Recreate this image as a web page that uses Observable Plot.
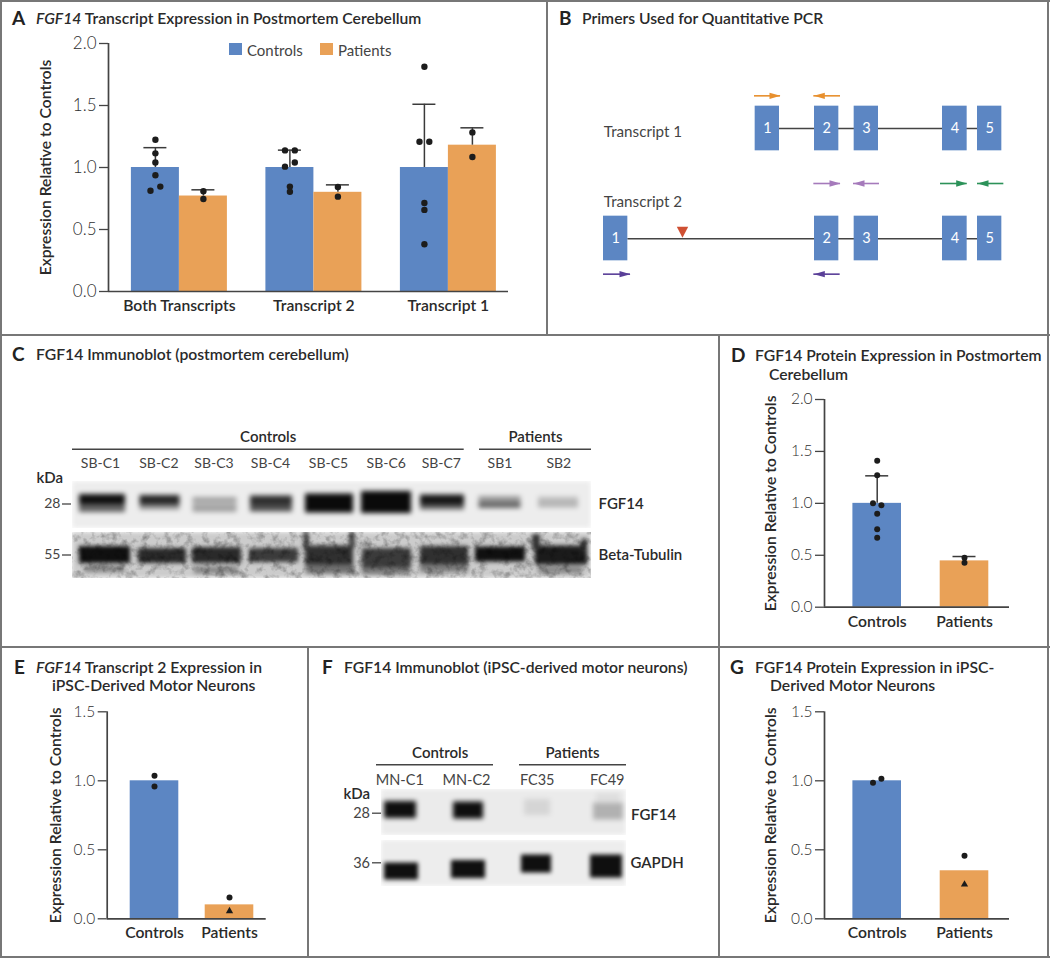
<!DOCTYPE html>
<html>
<head>
<meta charset="utf-8">
<script src="https://cdn.jsdelivr.net/npm/d3@7"></script>
<script src="https://cdn.jsdelivr.net/npm/@observablehq/plot@0.6"></script>
<style>
html,body{margin:0;padding:0;background:#fff;overflow:hidden}
#page{position:relative;width:1050px;height:960px;font-family:Lato,sans-serif;color:#222}
.ln{position:absolute;background:#777}
.t{position:absolute;white-space:nowrap;font-size:15.7px;font-weight:600;line-height:20px;color:#2a2a2a}
.l{position:absolute;white-space:nowrap;font-size:19px;font-weight:700;line-height:20px;color:#222}
.lg{position:absolute;white-space:nowrap;font-size:15px;font-weight:400;line-height:16px;color:#444}
.sw{position:absolute;width:13px;height:12px}
</style>
</head>
<body>
<svg width="0" height="0" style="position:absolute">
  <filter id="grain" x="0" y="0" width="100%" height="100%" color-interpolation-filters="sRGB">
    <feGaussianBlur in="SourceGraphic" stdDeviation="2.2" result="b"/>
    <feTurbulence type="fractalNoise" baseFrequency="0.13" numOctaves="3" seed="7" result="n"/>
    <feColorMatrix in="n" type="matrix" values="0.75 0 0 0 0.58  0.75 0 0 0 0.58  0.75 0 0 0 0.58  0 0 0 0 1" result="g"/>
    <feBlend in="b" in2="g" mode="multiply"/>
  </filter>
</svg>
<div id="page"></div>
<script>
// ---------- Panel A ----------
const aGroups = ["Both Transcripts", "Transcript 2", "Transcript 1"];
const aControls = [1.0, 1.0, 1.0];
const aPatients = [0.77, 0.80, 1.18];
const aControlsErr = [1.16, 1.14, 1.51];
const aPatientsErr = [0.82, 0.86, 1.32];
const aControlsPts = [
  [1.224, 1.114, 1.04, 0.937, 0.846, 0.813],
  [1.138, 1.138, 1.04, 1.007, 0.846, 0.805],
  [1.812, 1.208, 1.208, 0.714, 0.658, 0.381]
];
const aControlsCol = [
  [0, 0, 0, 0, 1, -1],
  [-1, 1, 1, -1, 0, 0],
  [0, -1, 1, 0, 0, 0]
];
const aPatientsPts = [[0.808, 0.746], [0.843, 0.765], [1.283, 1.085]];

// ---------- Panel D ----------
const dGroups = ["Controls", "Patients"];
const dBars = [1.0, 0.446];
const dErr = [1.265, 0.488];
const dPts = [[1.41, 1.27, 1.0, 0.982, 0.899, 0.751, 0.668], [0.475, 0.427]];
const dCol = [[0, 0, -1, 1, 0, 0, 0], [0, 0]];

// ---------- Panel E ----------
const eBars = [1.0, 0.101];
const ePts = [[1.036, 0.959], [0.155]];
const eCol = [[0, 0], [0]];
const eTri = [null, 0.056];

// ---------- Panel G ----------
const gBars = [1.0, 0.348];
const gPts = [[0.986, 1.014], [0.457]];
const gCol = [[-1, 1], [0]];
const gTri = [null, 0.249];

// ---------- Panel B (schematic, arbitrary gene units) ----------
const exonStart = [614, 792, 911, 1176, 1281];
const exonEnd = [687, 865, 984, 1250, 1354];
const exonNames = ["1", "2", "3", "4", "5"];
const exon1T2 = [159, 232];
const primerFrom = [612, 870, 790, 987, 1170, 1360, 159, 869];
const primerTo = [690, 790, 870, 909, 1250, 1281, 240, 790];
const primerTrack = [286, 286, 549, 549, 549, 549, 821, 821];
const primerKind = ["orange", "orange", "lilac", "lilac", "green", "green", "violet", "violet"];

// ---------- Blots: lane centre, half width, band centre, band height, signal 0..1 ----------
const cLaneNames = ["SB-C1", "SB-C2", "SB-C3", "SB-C4", "SB-C5", "SB-C6", "SB-C7", "SB1", "SB2"];
const cLaneLabelPos = [100, 158.4, 213.5, 270, 328, 385.7, 440.8, 499.5, 558.3];
const cFgfLane = [102, 102, 159.5, 159.5, 214.5, 214.5, 271, 271, 329, 386, 442, 442, 499.5, 499.5, 558, 558];
const cFgfHalf = [23, 23, 20, 20, 22, 22, 21, 21, 24, 25, 22, 22, 21, 21, 20, 20];
const cFgfY = [499, 508, 500, 507, 500, 508, 500.5, 508, 503, 502, 500.5, 507, 499, 505, 499, 503.5];
const cFgfH = [10, 8, 10, 5, 6, 8, 10, 7, 19, 22, 12, 5, 6, 6, 5, 8];
const cFgfS = [0.98, 0.62, 0.88, 0.42, 0.34, 0.34, 0.85, 0.7, 1, 1, 0.95, 0.62, 0.38, 0.6, 0.2, 0.26];
const cTubLane = [104.5, 162, 216.5, 273.5, 329, 386.5, 444, 500, 561, 306, 352, 536, 584, 104, 216, 330, 386, 444, 560];
const cTubHalf = [25.5, 24, 24.5, 24.5, 24, 24.5, 24, 25, 26, 2.5, 2.5, 4, 3, 20, 22, 24, 24, 24, 22];
const cTubY = [554.5, 555.5, 555, 555, 556, 558, 556, 554, 555, 540, 540, 542, 545, 569, 570, 569, 571, 568, 570];
const cTubH = [17, 15, 16, 14, 21, 20, 20, 15, 19, 18, 16, 16, 12, 6, 7, 9, 7, 8, 7];
const cTubS = [1, 0.88, 0.88, 0.8, 0.85, 0.8, 0.85, 1, 0.95, 0.8, 0.85, 0.85, 0.85, 0.45, 0.45, 0.55, 0.5, 0.5, 0.45];

const fLaneNames = ["MN-C1", "MN-C2", "FC35", "FC49"];
const fLaneLabelPos = [399.3, 466, 536.7, 606.7];
const fFgfLane = [400, 468, 537, 608, 608];
const fFgfHalf = [16, 15, 13, 15, 12];
const fFgfY = [809.5, 810, 807, 811, 798];
const fFgfH = [17, 17, 16, 17, 10];
const fFgfS = [1, 1, 0.12, 0.28, 0.08];
const fGapLane = [401, 468, 536, 606];
const fGapHalf = [17, 17, 15, 16];
const fGapY = [871, 869, 863.5, 866];
const fGapH = [17, 18, 18, 23];
const fGapS = [1, 1, 1, 1];

// ---------- Shared ----------
const BLUE = "#5c86c3", ORANGE = "#e9a157", INK = "#1c1c1c", AXIS = "#444";
const FONT = "Lato, sans-serif";
const page = document.getElementById("page");
const fmt = d3.format(".1f");

function add(el) { page.appendChild(el); }
function html(cls, x, y, h) {
  const d = document.createElement("div");
  d.className = cls; d.style.left = x + "px"; d.style.top = (y - 10) + "px"; d.innerHTML = h; add(d);
}
function line(x, y, w, h) {
  const d = document.createElement("div");
  d.className = "ln";
  Object.assign(d.style, {left: x + "px", top: y + "px", width: w + "px", height: h + "px"});
  add(d);
}
const svgStyle = (l, t) => ({position: "absolute", left: l + "px", top: t + "px", background: "transparent", fontFamily: FONT, overflow: "visible"});

// Common mark list for every bar panel, in a linear x scale whose unit is one category step.
function barPanel({box, axisL, axisR, yTop, yBot, c0, step, labelX, yMax, ticks, tickSize, names, dotR, bars, errs, pts, tris}) {
  const [L, T, W, H] = box;
  const xd = [(axisL - c0) / step, (axisR - c0) / step];
  const cap = 11.5 / step;
  add(Plot.plot({
    width: W, height: H,
    marginLeft: axisL - L, marginRight: L + W - axisR, marginTop: yTop - T, marginBottom: T + H - yBot,
    style: svgStyle(L, T),
    x: {domain: xd, axis: null},
    y: {domain: [0, yMax], axis: null},
    marks: [
      Plot.rect(bars, {x1: "x1", x2: "x2", y1: 0, y2: "v", fill: d => d.s === "c" ? BLUE : ORANGE}),
      Plot.ruleX(errs, {x: "x", y1: "y1", y2: "y2", stroke: "#3a3a3a", strokeWidth: 1.5}),
      Plot.ruleY(errs, {y: "y2", x1: d => d.x - cap, x2: d => d.x + cap, stroke: "#3a3a3a", strokeWidth: 1.5}),
      Plot.dot(pts, {x: "x", y: "y", r: dotR, fill: INK, stroke: null}),
      Plot.dot(tris, {x: "x", y: "y", r: 2.7, symbol: "triangle", fill: INK, stroke: null}),
      Plot.ruleX([xd[0]], {y1: 0, y2: yMax, stroke: AXIS, strokeWidth: 1.7}),
      Plot.ruleY([0], {x1: xd[0], x2: xd[1], stroke: AXIS, strokeWidth: 1.7}),
      Plot.axisY({ticks, tickFormat: fmt, label: null, tickSize: 9, tickPadding: 3, fontSize: tickSize, fontWeight: 300, stroke: AXIS, strokeWidth: 1.3, fill: "#2f2f2f"}),
      Plot.text(names.map((d, i) => ({d, i})), {x: "i", y: 0, text: "d", dy: 14.5, fontSize: 15.7, fontWeight: 600, fill: "#2a2a2a"}),
      Plot.text(["Expression Relative to Controls"], {frameAnchor: "left", textAnchor: "middle", dx: labelX - axisL, rotate: -90, fontSize: 15.7, fontWeight: 600, fill: "#2a2a2a"})
    ]
  }));
}

// ---------- Frames ----------
line(0, 0, 1050, 2);
line(0, 0, 2, 958);
line(1047, 0, 2, 958);
line(0, 334, 1050, 2);
line(0, 646, 1050, 2);
line(0, 956, 1050, 2);
line(546, 0, 2, 335);
line(718, 335, 2, 622);
line(307, 646, 2, 311);

// ---------- Titles ----------
html("l", 12, 18, "A"); html("t", 36, 18, "<i>FGF14</i> Transcript Expression in Postmortem Cerebellum");
html("l", 559, 18, "B"); html("t", 582, 18, "Primers Used for Quantitative PCR");
html("l", 12, 354, "C"); html("t", 36, 354, "FGF14 Immunoblot (postmortem cerebellum)");
html("l", 731, 355, "D"); html("t", 755, 355, "FGF14 Protein Expression in Postmortem"); html("t", 769, 374, "Cerebellum");
html("l", 14, 667, "E"); html("t", 36, 667, "<i>FGF14</i> Transcript 2 Expression in"); html("t", 52, 685, "iPSC-Derived Motor Neurons");
html("l", 322, 667, "F"); html("t", 344, 667, "FGF14 Immunoblot (iPSC-derived motor neurons)");
html("l", 730, 667, "G"); html("t", 755, 667, "FGF14 Protein Expression in iPSC-"); html("t", 770, 685, "Derived Motor Neurons");

// ---------- Legend A ----------
[[228.7, BLUE, 247, "Controls"], [320, ORANGE, 338, "Patients"]].forEach(([sx, c, tx, s]) => {
  const d = document.createElement("div"); d.className = "sw";
  Object.assign(d.style, {left: sx + "px", top: "43px", background: c}); add(d);
  const t = document.createElement("div"); t.className = "lg"; t.textContent = s;
  Object.assign(t.style, {left: tx + "px", top: "41.5px"}); add(t);
});

// ---------- Panel A rows ----------
{
  const step = 134.5, half = 24 / step, jit = 4.9 / step;
  const bars = [], errs = [], pts = [];
  aGroups.forEach((g, i) => {
    const cx = i - half, px = i + half;
    bars.push({x1: cx - half, x2: cx + half, v: aControls[i], s: "c"}, {x1: px - half, x2: px + half, v: aPatients[i], s: "p"});
    errs.push({x: cx, y1: aControls[i], y2: aControlsErr[i]}, {x: px, y1: aPatients[i], y2: aPatientsErr[i]});
    aControlsPts[i].forEach((v, j) => pts.push({x: cx + aControlsCol[i][j] * jit, y: v}));
    aPatientsPts[i].forEach(v => pts.push({x: px, y: v}));
  });
  barPanel({box: [3, 3, 543, 331], axisL: 108, axisR: 508, yTop: 43, yBot: 291, c0: 178.9, step, labelX: 45.6, yMax: 2,
    ticks: [0, 0.5, 1, 1.5, 2], tickSize: 17, names: aGroups, dotR: 3.2, bars, errs, pts, tris: []});
}

// ---------- Panels D, E, G rows ----------
function singlePanel(box, yTop, yBot, axisL, axisR, c0, step, labelX, yMax, ticks, barVals, err, ptVals, col, tri) {
  const half = 24.3 / step, jit = 4.2 / step;
  const bars = barVals.map((v, i) => ({x1: i - half, x2: i + half, v, s: i === 0 ? "c" : "p"}));
  const errs = err ? err.map((e, i) => ({x: i, y1: barVals[i], y2: e})) : [];
  const pts = ptVals.flatMap((a, i) => a.map((v, j) => ({x: i + col[i][j] * jit, y: v})));
  const tris = tri ? tri.flatMap((v, i) => v == null ? [] : [{x: i, y: v}]) : [];
  barPanel({box, axisL, axisR, yTop, yBot, c0, step, labelX, yMax, ticks, tickSize: 15.5, names: dGroups, dotR: 3, bars, errs, pts, tris});
}
singlePanel([722, 337, 325, 308], 399, 606.7, 824, 1009, 876.7, 87.3, 770.7, 2, [0, 0.5, 1, 1.5, 2], dBars, dErr, dPts, dCol, null);
singlePanel([3, 649, 303, 306], 711.3, 918.3, 106.7, 265.7, 154, 75, 55, 1.5, [0, 0.5, 1, 1.5], eBars, null, ePts, eCol, eTri);
singlePanel([722, 649, 325, 306], 711.3, 918.3, 824, 1009, 876.7, 87.3, 770.7, 1.5, [0, 0.5, 1, 1.5], gBars, null, gPts, gCol, gTri);

// ---------- Panel B schematic ----------
const arrowR = {draw(c) { c.moveTo(11, 0); c.lineTo(0, -3.2); c.lineTo(0, 3.2); c.closePath(); }};
const arrowL = {draw(c) { c.moveTo(-11, 0); c.lineTo(0, -3.2); c.lineTo(0, 3.2); c.closePath(); }};
const redTri = {draw(c) { c.moveTo(-5.7, -11); c.lineTo(5.7, -11); c.lineTo(0, 0); c.closePath(); }};
const exons1 = exonNames.map((n, i) => ({n, a: exonStart[i], b: exonEnd[i], t: 317, e: 451, m: 384}));
const exons2 = exonNames.map((n, i) => ({n, a: i ? exonStart[i] : exon1T2[0], b: i ? exonEnd[i] : exon1T2[1], t: 647, e: 781, m: 715}));
const primers = primerFrom.map((f, i) => ({f, to: primerTo[i], y: primerTrack[i], k: primerKind[i]}));
const primerFill = {orange: "#e8902e", lilac: "#a57abb", green: "#2c9259", violet: "#5a3f98"};
add(Plot.plot({
  width: 498, height: 331, margin: 0,
  style: svgStyle(550, 2),
  x: {domain: [0, 1494], axis: null},
  y: {domain: [6 + 993, 6], axis: null},
  marks: [
    Plot.ruleY([384], {x1: exonEnd[0], x2: exonStart[4], stroke: "#444", strokeWidth: 1.5}),
    Plot.ruleY([715], {x1: exon1T2[1], x2: exonStart[4], stroke: "#444", strokeWidth: 1.5}),
    Plot.rect(exons1.concat(exons2), {x1: "a", x2: "b", y1: "t", y2: "e", fill: BLUE}),
    Plot.text(exons1.concat(exons2), {x: d => (d.a + d.b) / 2, y: "m", text: "n", fill: "#fff", fontSize: 14.5, fontWeight: 400}),
    Plot.text(["Transcript 1", "Transcript 2"], {x: 160, y: (d, i) => [394, 604][i], text: d => d, textAnchor: "start", fontSize: 15.2, fontWeight: 400, fill: "#444"}),
    Plot.ruleY(primers, {y: "y", x1: "f", x2: "to", stroke: d => primerFill[d.k], strokeWidth: 1.6}),
    Plot.dot(primers.filter(d => d.to > d.f), {x: d => d.to - 33, y: "y", symbol: arrowR, r: 3, fill: d => primerFill[d.k], stroke: null}),
    Plot.dot(primers.filter(d => d.to < d.f), {x: d => d.to + 33, y: "y", symbol: arrowL, r: 3, fill: d => primerFill[d.k], stroke: null}),
    Plot.dot([396], {x: d => d, y: 712, symbol: redTri, r: 3, fill: "#cf5033", stroke: null})
  ]
}));

// ---------- Blots ----------
function blot(L, T, R, B, lane, half, y, h, sig, bg, filter, lo, hi) {
  const rows = [{a: L, b: R, t: T, e: B, s: bg}].concat(lane.map((c, i) => ({a: c - half[i], b: c + half[i], t: y[i] - h[i] / 2, e: y[i] + h[i] / 2, s: sig[i]})));
  const W = R - L, H = B - T;
  add(Plot.plot({
    width: W, height: H, margin: 0,
    style: {...svgStyle(L, T), overflow: "hidden"},
    x: {domain: [L, R], axis: null},
    y: {domain: [B, T], axis: null},
    color: {type: "linear", domain: [0, 1], range: [lo, hi]},
    marks: [Plot.rect(rows, {x1: "a", x2: "b", y1: "t", y2: "e", fill: "s", imageFilter: filter})]
  }));
}
function annot(L, T, W, H, marks) {
  add(Plot.plot({
    width: W, height: H, margin: 0, style: svgStyle(L, T),
    x: {domain: [L, L + W], axis: null}, y: {domain: [T + H, T], axis: null}, marks
  }));
}
blot(72, 481, 591, 528, cFgfLane, cFgfHalf, cFgfY, cFgfH, cFgfS, 0.02, "blur(2.8px)", "#f2f2f2", "#0a0a0a");
blot(72, 532, 591, 578, cTubLane, cTubHalf, cTubY, cTubH, cTubS, 0.12, "url(#grain)", "#e6e6e6", "#101010");
blot(381, 789, 626, 835, fFgfLane, fFgfHalf, fFgfY, fFgfH, fFgfS, 0.02, "blur(2.6px)", "#f0f0f0", "#0e0e0e");
blot(381, 840, 626, 886, fGapLane, fGapHalf, fGapY, fGapH, fGapS, 0.01, "blur(2.2px)", "#efefef", "#0f0f0f");

const tx = (arr, opt) => Plot.text(arr, {x: "x", y: "y", text: "s", fill: "#2a2a2a", ...opt});
const head = {fontSize: 15, fontWeight: 600};
annot(3, 425, 715, 160, [
  tx([{x: 267.7, y: 437, s: "Controls"}, {x: 535, y: 437, s: "Patients"}], head),
  Plot.ruleY([448.7], {x1: 72, x2: 463.7, stroke: "#444", strokeWidth: 1.5}),
  Plot.ruleY([448.7], {x1: 479, x2: 591, stroke: "#444", strokeWidth: 1.5}),
  tx(cLaneNames.map((s, i) => ({x: cLaneLabelPos[i], y: 463.5, s})), {fontSize: 14, fontWeight: 400, fill: "#444"}),
  tx([{x: 36, y: 478, s: "kDa"}], {...head, textAnchor: "start"}),
  tx([{x: 60, y: 503.5, s: "28"}, {x: 60, y: 554.5, s: "55"}], {textAnchor: "end", fontSize: 14, fontWeight: 400, fill: "#444"}),
  Plot.ruleY([503.5, 554.5], {x1: 62, x2: 71, stroke: "#444", strokeWidth: 1.3}),
  tx([{x: 598, y: 503.5, s: "FGF14"}, {x: 598, y: 555, s: "Beta-Tubulin"}], {...head, textAnchor: "start"})
]);
annot(311, 740, 405, 160, [
  tx([{x: 439.7, y: 752.5, s: "Controls"}, {x: 572, y: 752.5, s: "Patients"}], head),
  Plot.ruleY([764.3], {x1: 376, x2: 493, stroke: "#444", strokeWidth: 1.5}),
  Plot.ruleY([764.3], {x1: 519, x2: 626, stroke: "#444", strokeWidth: 1.5}),
  tx(fLaneNames.map((s, i) => ({x: fLaneLabelPos[i], y: 779.5, s})), {fontSize: 14.5, fontWeight: 400, fill: "#444"}),
  tx([{x: 343, y: 793.5, s: "kDa"}], {...head, textAnchor: "start"}),
  tx([{x: 369.5, y: 813, s: "28"}, {x: 369.5, y: 862.5, s: "36"}], {textAnchor: "end", fontSize: 14.5, fontWeight: 400, fill: "#444"}),
  Plot.ruleY([812.7, 862.3], {x1: 372, x2: 381, stroke: "#444", strokeWidth: 1.3}),
  tx([{x: 630.5, y: 814.5, s: "FGF14"}, {x: 630, y: 862.5, s: "GAPDH"}], {...head, textAnchor: "start"})
]);
</script>
</body>
</html>
